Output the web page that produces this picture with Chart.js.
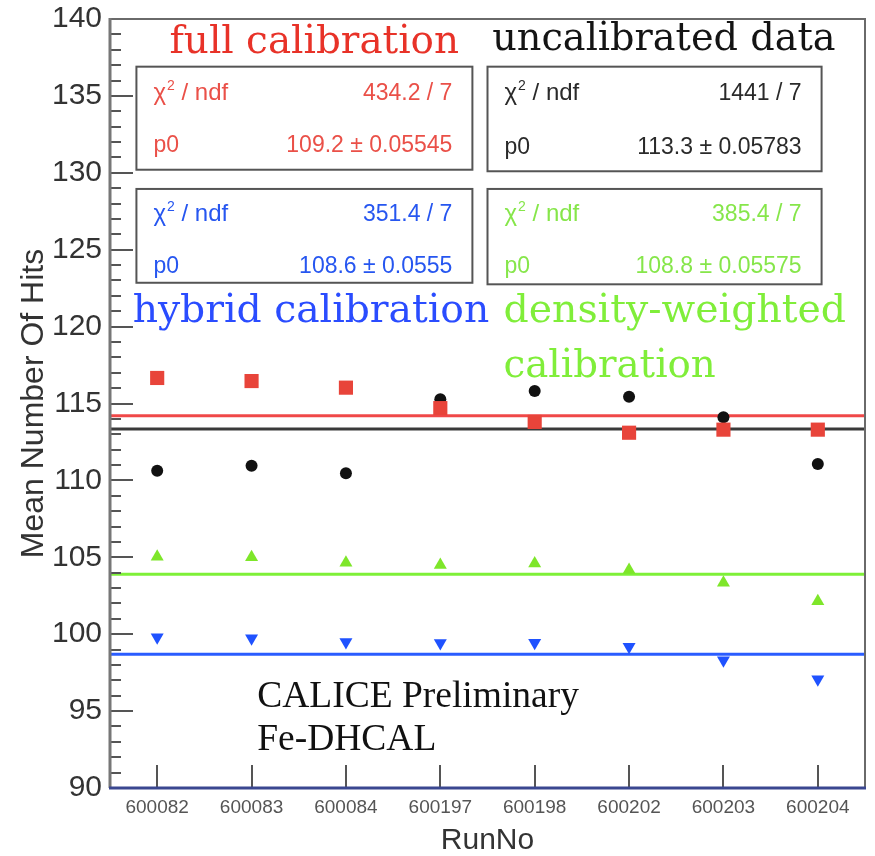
<!DOCTYPE html>
<html>
<head>
<meta charset="utf-8">
<script src="https://cdn.jsdelivr.net/npm/chart.js@4.4.0/dist/chart.umd.min.js"></script>
<style>
  body { margin: 0; background: #fff; }
  #wrap { width: 875px; height: 856px; }
</style>
</head>
<body>
<div id="wrap"><canvas id="myChart" width="875" height="856"></canvas></div>
<script>
// run numbers (x axis)
const runs = ["600082", "600083", "600084", "600197", "600198", "600202", "600203", "600204"];

// mean number of hits per run
const fullCal = [116.66, 116.46, 116.03, 114.7, 113.8, 113.1, 113.3, 113.3];
const uncalData = [110.63, 110.96, 110.46, 115.27, 115.81, 115.44, 114.1, 111.07];
const densityCal = [105.04, 105.0, 104.65, 104.5, 104.6, 104.17, 103.35, 102.15];
const hybridCal = [99.8, 99.73, 99.5, 99.43, 99.45, 99.19, 98.3, 97.07];

// constant fit levels (as drawn)
const fullFit = 114.2;
const uncalFit = 113.34;
const densityFit = 103.9;
const hybridFit = 98.7;

// y range and ticks
const yMin = 90;
const yMax = 140;
const yStep = 5;

const RED = "#e8443a";
const BLACK = "#111111";
const GREEN = "#7ee62a";
const BLUE = "#1f52ff";

const chart = document.querySelector("#myChart");

const toPoints = (valores) => valores.map((v, i) => ({ x: i + 1, y: v }));
const fitLine = (nivel) => [{ x: 0.5, y: nivel }, { x: runs.length + 0.5, y: nivel }];

// fit result boxes, positions in data units
const statBoxes = [
  { color: "#ea5048", x1: 0.78, x2: 4.34, top: 136.9, bottom: 130.2, row1: 134.73, row2: 131.35, chi: "434.2 / 7", p0: "109.2 ± 0.05545" },
  { color: "#2a2a2a", x1: 4.50, x2: 8.04, top: 136.9, bottom: 130.1, row1: 134.73, row2: 131.2, chi: "1441 / 7", p0: "113.3 ± 0.05783" },
  { color: "#2656f0", x1: 0.78, x2: 4.34, top: 128.95, bottom: 122.85, row1: 126.87, row2: 123.49, chi: "351.4 / 7", p0: "108.6 ± 0.0555" },
  { color: "#86e64a", x1: 4.50, x2: 8.04, top: 128.95, bottom: 122.75, row1: 126.87, row2: 123.49, chi: "385.4 / 7", p0: "108.8 ± 0.05575" },
];

// serif captions: text, left/right in x units, baseline in y units
const captions = [
  { text: "full calibration", color: "#e83228", x1: 1.13, x2: 4.20, y: 137.8, family: "DejaVu Serif" },
  { text: "uncalibrated data", color: "#141414", x1: 4.55, x2: 8.19, y: 137.98, family: "DejaVu Serif" },
  { text: "hybrid calibration", color: "#2a4cff", x1: 0.74, x2: 4.52, y: 120.3, family: "DejaVu Serif" },
  { text: "density-weighted", color: "#80ee3a", x1: 4.67, x2: 8.30, y: 120.3, family: "DejaVu Serif" },
  { text: "calibration", color: "#80ee3a", x1: 4.67, x2: 6.92, y: 116.72, family: "DejaVu Serif" },
  { text: "CALICE Preliminary", color: "#111111", x1: 2.06, x2: 5.47, y: 95.27, family: "Liberation Serif" },
];
const subCaption = { text: "Fe-DHCAL", color: "#111111", x1: 2.06, y: 92.47 };

const drawChi = (ctx, x, y, size) => {
  ctx.textAlign = "left";
  ctx.font = `${size}px "Liberation Sans"`;
  ctx.fillText("χ", x, y);
  let w = ctx.measureText("χ").width;
  ctx.font = `${Math.round(size * 0.6)}px "Liberation Sans"`;
  ctx.fillText("2", x + w + 1, y - size * 0.42);
  w += ctx.measureText("2").width + 1;
  ctx.font = `${size}px "Liberation Sans"`;
  ctx.fillText(" / ndf", x + w, y);
};

const decoraciones = {
  id: "decoraciones",
  afterDraw(c) {
    const ctx = c.ctx;
    const xs = c.scales.x;
    const ys = c.scales.y;
    const area = c.chartArea;
    ctx.save();

    // ticks inside the frame
    ctx.strokeStyle = "#555";
    ctx.lineWidth = 2;
    for (let v = yMin + 1; v < yMax; v++) {
      const y = Math.round(ys.getPixelForValue(v));
      const len = v % yStep === 0 ? 23 : 11;
      ctx.beginPath();
      ctx.moveTo(area.left, y);
      ctx.lineTo(area.left + len, y);
      ctx.stroke();
    }
    runs.forEach((r, i) => {
      const x = Math.round(xs.getPixelForValue(i + 1));
      ctx.beginPath();
      ctx.moveTo(x, area.bottom);
      ctx.lineTo(x, area.bottom - 23);
      ctx.stroke();
    });

    // frame
    ctx.strokeStyle = "#6a6a6a";
    ctx.lineWidth = 2;
    ctx.beginPath();
    ctx.moveTo(area.left, area.top);
    ctx.lineTo(area.right, area.top);
    ctx.lineTo(area.right, area.bottom);
    ctx.stroke();
    ctx.lineWidth = 3;
    ctx.strokeStyle = "#777";
    ctx.beginPath();
    ctx.moveTo(area.left, area.top - 1);
    ctx.lineTo(area.left, area.bottom);
    ctx.stroke();
    ctx.strokeStyle = "#3a4790";
    ctx.beginPath();
    ctx.moveTo(area.left - 1, area.bottom);
    ctx.lineTo(area.right + 1, area.bottom);
    ctx.stroke();

    // fit result boxes
    statBoxes.forEach((b) => {
      const x1 = xs.getPixelForValue(b.x1);
      const x2 = xs.getPixelForValue(b.x2);
      const y1 = ys.getPixelForValue(b.top);
      const y2 = ys.getPixelForValue(b.bottom);
      ctx.fillStyle = "#fff";
      ctx.fillRect(x1, y1, x2 - x1, y2 - y1);
      ctx.strokeStyle = "#555";
      ctx.lineWidth = 2;
      ctx.strokeRect(x1, y1, x2 - x1, y2 - y1);
      ctx.fillStyle = b.color;
      ctx.textBaseline = "alphabetic";
      const r1 = ys.getPixelForValue(b.row1);
      const r2 = ys.getPixelForValue(b.row2);
      drawChi(ctx, x1 + 17, r1, 24);
      ctx.font = '23px "Liberation Sans"';
      ctx.fillText("p0", x1 + 17, r2);
      ctx.textAlign = "right";
      ctx.fillText(b.chi, x2 - 20, r1);
      ctx.fillText(b.p0, x2 - 20, r2);
    });

    // captions, font size fitted to the width they take in the picture
    let calSize = 36;
    captions.forEach((t) => {
      const x1 = xs.getPixelForValue(t.x1);
      const x2 = xs.getPixelForValue(t.x2);
      ctx.font = `100px "${t.family}"`;
      const size = (100 * (x2 - x1)) / ctx.measureText(t.text).width;
      if (t.text === "CALICE Preliminary") calSize = size;
      ctx.font = `${size}px "${t.family}"`;
      ctx.fillStyle = t.color;
      ctx.textAlign = "left";
      ctx.fillText(t.text, x1, ys.getPixelForValue(t.y));
    });
    ctx.font = `${calSize}px "Liberation Serif"`;
    ctx.fillStyle = subCaption.color;
    ctx.fillText(subCaption.text, xs.getPixelForValue(subCaption.x1), ys.getPixelForValue(subCaption.y));

    ctx.restore();
  },
};

const config = {
  type: "scatter",
  data: {
    datasets: [
      { label: "full calibration", data: toPoints(fullCal), pointStyle: "rect", pointRadius: 10, backgroundColor: RED, borderColor: RED, borderWidth: 0 },
      { label: "uncalibrated data", data: toPoints(uncalData), pointStyle: "circle", pointRadius: 6, backgroundColor: BLACK, borderColor: BLACK, borderWidth: 0 },
      { label: "density-weighted calibration", data: toPoints(densityCal), pointStyle: "triangle", pointRadius: 7.5, backgroundColor: GREEN, borderColor: GREEN, borderWidth: 0 },
      { label: "hybrid calibration", data: toPoints(hybridCal), pointStyle: "triangle", rotation: 180, pointRadius: 7.5, backgroundColor: BLUE, borderColor: BLUE, borderWidth: 0 },
      { type: "line", label: "fit full", data: fitLine(fullFit), borderColor: "#f04848", borderWidth: 3, pointRadius: 0 },
      { type: "line", label: "fit uncal", data: fitLine(uncalFit), borderColor: "#3a3a3a", borderWidth: 3, pointRadius: 0 },
      { type: "line", label: "fit density", data: fitLine(densityFit), borderColor: "#7ef038", borderWidth: 3, pointRadius: 0 },
      { type: "line", label: "fit hybrid", data: fitLine(hybridFit), borderColor: "#2a5cff", borderWidth: 3, pointRadius: 0 },
    ],
  },
  options: {
    responsive: false,
    animation: false,
    devicePixelRatio: 1,
    layout: { padding: { top: 19, right: 8, left: 0, bottom: 0 } },
    plugins: { legend: { display: false }, tooltip: { enabled: false } },
    scales: {
      x: {
        type: "linear",
        min: 0.5,
        max: runs.length + 0.5,
        afterBuildTicks: (scale) => {
          scale.ticks = runs.map((r, i) => ({ value: i + 1 }));
        },
        afterFit: (scale) => { scale.height = 68; },
        grid: { display: false, drawTicks: false },
        border: { display: false },
        ticks: {
          callback: (value) => runs[value - 1] || "",
          font: { family: "Liberation Sans", size: 19 },
          color: "#555",
          padding: 8,
          maxRotation: 0,
          autoSkip: false,
        },
        title: {
          display: true,
          text: "RunNo",
          font: { family: "Liberation Sans", size: 30, lineHeight: 1 },
          color: "#333",
          padding: 0,
        },
      },
      y: {
        min: yMin,
        max: yMax,
        afterFit: (scale) => {
          scale.width = 110;
          scale.paddingTop = 0;
          scale.paddingBottom = 0;
        },
        grid: { display: false, drawTicks: false },
        border: { display: false },
        ticks: {
          stepSize: yStep,
          font: { family: "Liberation Sans", size: 30 },
          color: "#333",
          padding: 8,
        },
        title: {
          display: true,
          text: "Mean Number Of Hits",
          font: { family: "Liberation Sans", size: 32 },
          color: "#333",
          padding: { top: 15, bottom: 0 },
        },
      },
    },
  },
  plugins: [decoraciones],
};

new Chart(chart, config);
</script>
</body>
</html>
